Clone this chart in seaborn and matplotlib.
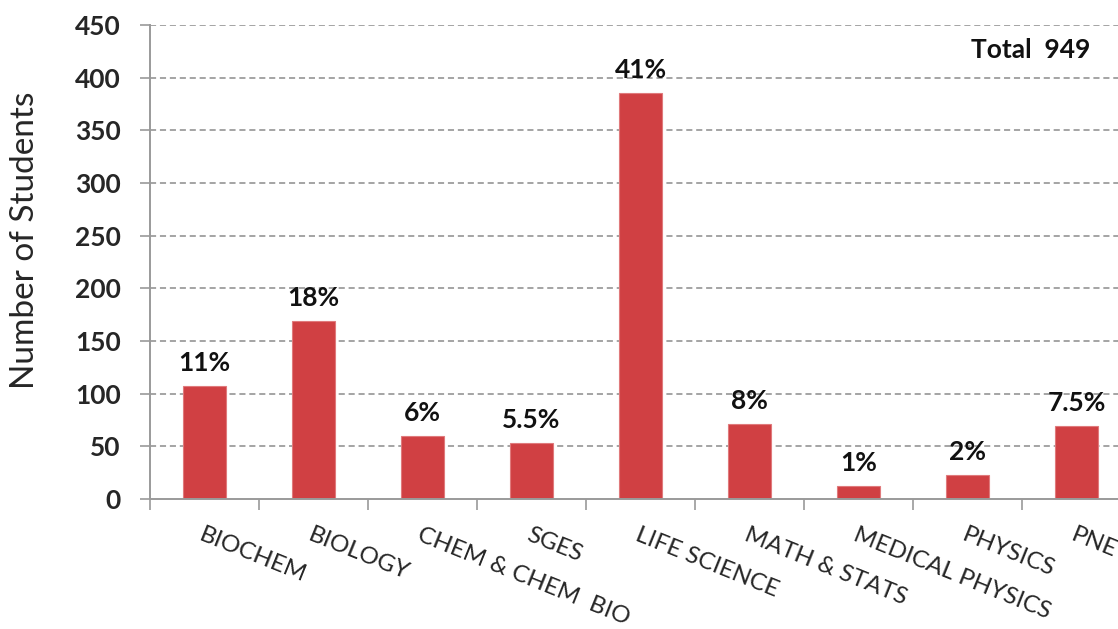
import matplotlib
matplotlib.use("Agg")
import matplotlib.pyplot as plt
import seaborn as sns
import pandas as pd

# Enrolment by programme
categories = ["BIOCHEM", "BIOLOGY", "CHEM & CHEM  BIO", "SGES", "LIFE SCIENCE",
              "MATH & STATS", "MEDICAL PHYSICS", "PHYSICS", "PNE"]
students = [107, 169, 60, 53, 385, 71, 12, 23, 69]
percent_labels = ["11%", "18%", "6%", "5.5%", "41%", "8%", "1%", "2%", "7.5%"]
total_label = "Total  949"
y_ticks = [0, 50, 100, 150, 200, 250, 300, 350, 400, 450]

sns.set_theme(style="white")
plt.rcParams["font.family"] = ["Lato", "DejaVu Sans"]

df = pd.DataFrame({"programme": categories, "students": students})

fig = plt.figure(figsize=(11.18, 6.29), dpi=100)
# plot area runs slightly past the right edge of the canvas
ax = fig.add_axes([150 / 1118, 1 - 499 / 629, 981 / 1118, 474 / 629])

bar_color = "#D04043"
sns.barplot(data=df, x="programme", y="students", color=bar_color,
            width=0.4, saturation=1, ax=ax, edgecolor="#E07A7C", linewidth=0.8)

ax.set_xlim(-0.5, len(categories) - 0.5)
ax.set_ylim(0, 450)
ax.set_yticks(y_ticks)
ax.set_yticklabels([str(v) for v in y_ticks], fontsize=19, fontweight="bold")

# dashed horizontal gridlines
for v in y_ticks[1:]:
    ax.axhline(v, color="#8C8C8C", linestyle=(0, (4, 2.5)), linewidth=1.1, zorder=0)

# category labels at bar centres, boundary ticks between categories
ax.set_xticks(range(len(categories)))
ax.set_xticklabels(categories, rotation=-22, ha="left", va="top",
                   rotation_mode="anchor", fontsize=17.5)
ax.set_xticks([i - 0.5 for i in range(len(categories) + 1)], minor=True)
ax.tick_params(axis="x", which="major", length=0, pad=18)
ax.tick_params(axis="x", which="minor", length=8, width=1.2, color="#9A9A9A",
               direction="out", bottom=True)
ax.tick_params(axis="y", which="major", length=7, width=1.2, color="#9A9A9A",
               direction="out", left=True, pad=14)

ax.set_xlabel("")
ax.set_ylabel("Number of Students", fontsize=24, va="center")
ax.yaxis.set_label_coords(-0.127, 0.546)

for side in ["top", "right"]:
    ax.spines[side].set_visible(False)
for side in ["left", "bottom"]:
    ax.spines[side].set_color("#9A9A9A")
    ax.spines[side].set_linewidth(1.4)

# percentage share above each bar
for i, (v, lab) in enumerate(zip(students, percent_labels)):
    ax.annotate(lab, (i, v), xytext=(0, 8), textcoords="offset points",
                ha="center", va="bottom", fontsize=19, fontweight="bold",
                color="#111111")

fig.text(1090 / 1118, 1 - 50 / 629, total_label, ha="right", va="center",
         fontsize=19, fontweight="bold", color="#111111")

fig.savefig("out.png", dpi=100)
